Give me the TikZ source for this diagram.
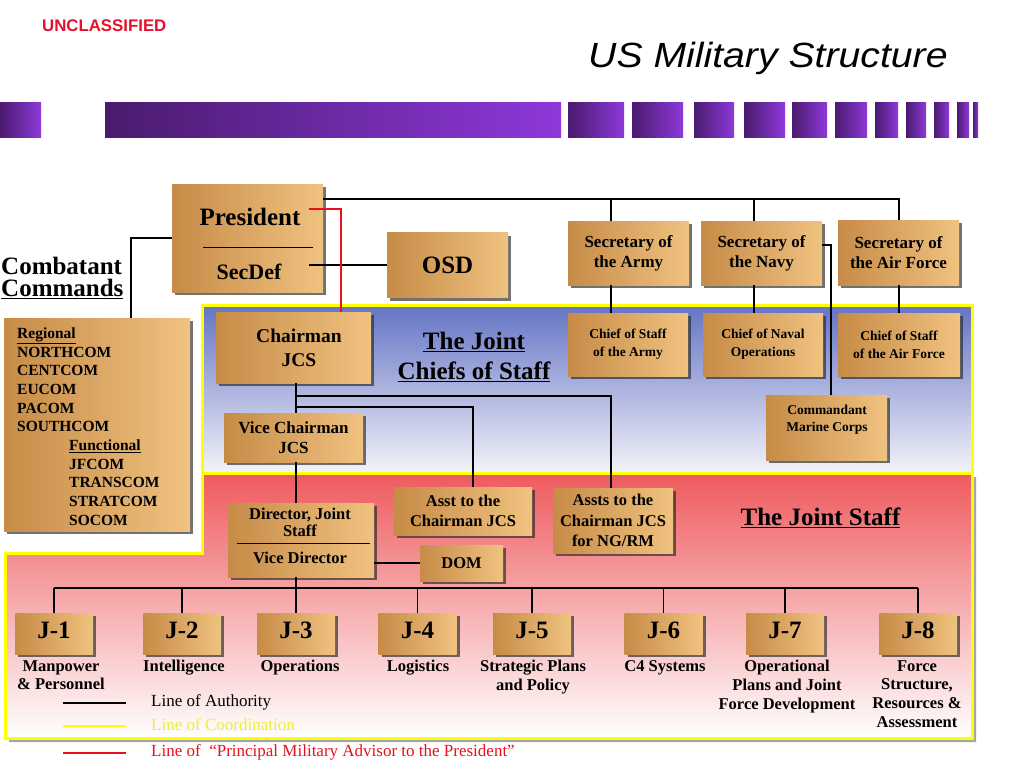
\documentclass[tikz,border=0pt]{standalone}
\usepackage{fontspec}
\setmainfont{Liberation Serif}
\newfontfamily\arialfam{Liberation Sans}
\usetikzlibrary{shadows}
\definecolor{boxL}{HTML}{C68B47}
\definecolor{boxR}{HTML}{F0C280}
\definecolor{blueT}{HTML}{6474C4}
\definecolor{blueB}{HTML}{F3F3F9}
\definecolor{redT}{HTML}{EE5A5E}
\definecolor{yel}{HTML}{FFFF00}
\definecolor{purD}{HTML}{4A1B6E}
\definecolor{purL}{HTML}{8E38DA}
\definecolor{uncl}{HTML}{E5122E}
\definecolor{advred}{HTML}{E8101E}
\definecolor{coordyel}{HTML}{EDED3A}
\newcommand\myfs[2]{\fontsize{#1}{#2}\selectfont\bfseries}
\begin{document}
\begin{tikzpicture}[x=1pt,y=-1pt,
  tbox/.style={left color=boxL, right color=boxR, inner sep=0pt, align=center,
    drop shadow={shadow xshift=3pt, shadow yshift=-3pt, opacity=.65, fill=black!85}},
  jbox/.style={tbox, minimum width=78pt, minimum height=41pt, text depth=7pt, font=\myfs{25}{28}},
  jlab/.style={anchor=north, inner sep=0pt, align=center, font=\myfs{16.5}{18.7}},
  lbl/.style={inner sep=0pt, align=center},
  conn/.style={draw=black, line width=1.8pt},
  redl/.style={draw=advred, line width=1.8pt},
  legline/.style={line width=1.2pt},
  legtext/.style={anchor=base west, inner sep=0pt, font=\fontsize{17}{20}\selectfont}]
\fill[white] (0,0) rectangle (1024,768);
\useasboundingbox (0,0) rectangle (1024,768);

% header
\node[anchor=west, inner sep=0pt, text=uncl, font=\arialfam\bfseries\fontsize{16.8}{18}\selectfont] (uncl) at (42,26) {UNCLASSIFIED};
\node[anchor=base west, inner sep=0pt, font=\arialfam\itshape\fontsize{35}{40}\selectfont] (title) at (588,67) {\scalebox{1.12}[1]{US Military Structure}};
\foreach \a/\b in {0/41,105/561,568/624,632/683,694/734,744/785,792/827,835/867,875/898,906/926,934/949,957/969,973/978}
  \fill[left color=purD, right color=purL] (\a,102) rectangle (\b,137);

% regions
\fill[black!35, shift={(4,4)}] (202,473) -- (972,473) -- (972,738) -- (5,738) -- (5,553) -- (202,553) -- cycle;
\path[draw=yel, line width=3pt, top color=blueT, bottom color=blueB] (202,305) rectangle (972,473);
\path[draw=yel, line width=3pt, top color=redT, bottom color=white] (202,473) -- (972,473) -- (972,738) -- (5,738) -- (5,553) -- (202,553) -- cycle;

% combatant commands
\node[anchor=base west, inner sep=0pt, font=\myfs{25}{28}] (cctitleA) at (1,274) {Combatant};
\node[anchor=base west, inner sep=0pt, font=\myfs{25}{28}] (cctitleB) at (1,296.5) {\underline{Commands}};
\node[tbox, minimum width=186pt, minimum height=213pt] (cc) at (97,424.5) {};
\node[anchor=north west, align=left, inner sep=0pt, font=\myfs{15.5}{18.7}] (cclist) at (17,327.4)
  {\underline{Regional}\\NORTHCOM\\CENTCOM\\EUCOM\\PACOM\\SOUTHCOM\\
   \hspace*{52pt}\underline{Functional}\\\hspace*{52pt}JFCOM\\\hspace*{52pt}TRANSCOM\\\hspace*{52pt}STRATCOM\\\hspace*{52pt}SOCOM};

% president / secdef
\node[tbox, minimum width=151pt, minimum height=108pt] (pres) at (247.5,238) {};
\node[lbl, font=\myfs{25}{28}] (prest) at (250,217) {President};
\draw[line width=1pt] (203,247) -- (313,247);
\node[lbl, font=\myfs{22}{24}] (secdeft) at (249,272) {SecDef};
\node[tbox, minimum width=121pt, minimum height=65pt, font=\myfs{25}{28}] (osd) at (447.5,265) {OSD};

% service secretaries and chiefs
\node[tbox, minimum width=121pt, minimum height=64pt, font=\myfs{17}{20}] (secarmy) at (628.5,253) {Secretary of\\the Army};
\node[tbox, minimum width=121pt, minimum height=64pt, font=\myfs{17}{20}] (secnavy) at (761.5,253) {Secretary of\\the Navy};
\node[tbox, minimum width=121pt, minimum height=65pt, font=\myfs{17}{20}] (secaf) at (898.5,252.5) {Secretary of\\the Air Force};
\node[tbox, minimum width=120pt, minimum height=63pt, font=\myfs{13.5}{18}] (cosarmy) at (628,344.5) {Chief of Staff\\of the Army};
\node[tbox, minimum width=120pt, minimum height=63pt, font=\myfs{13.5}{18}] (cno) at (763,344.5) {Chief of Naval\\Operations};
\node[tbox, minimum width=122pt, minimum height=63pt, font=\myfs{13.5}{18}] (cosaf) at (899,344.5) {Chief of Staff\\of the Air Force};
\node[tbox, minimum width=121pt, minimum height=65pt] (cmc) at (826.5,427.5) {};
\node[lbl, font=\myfs{13.5}{17}] (cmct) at (827,420) {Commandant\\Marine Corps};

% joint chiefs
\node[tbox, minimum width=155pt, minimum height=71pt, font=\myfs{19.5}{24}] (cjcs) at (293.5,347.5) {\hspace*{11pt}Chairman\\\hspace*{11pt}JCS};
\node[tbox, minimum width=139pt, minimum height=49pt, font=\myfs{17}{20}] (vcjcs) at (293.5,437.5) {Vice Chairman\\JCS};
\node[anchor=north, lbl, font=\myfs{25}{30}] (jcstitle) at (474,332) {\underline{The Joint}\\\underline{Chiefs of Staff}};

% joint staff
\node[anchor=base, inner sep=0pt, font=\myfs{25}{30}] (jstitle) at (820.5,525.5) {\underline{The Joint Staff}};
\node[tbox, minimum width=146pt, minimum height=74pt] (djs) at (301,540) {};
\node[lbl, font=\myfs{16.5}{17}] (djst) at (300,522.5) {Director, Joint\\Staff};
\draw[line width=1pt] (237,543) -- (370,543);
\node[lbl, font=\myfs{16.5}{18}] (vdt) at (300,558) {Vice Director};
\node[tbox, minimum width=138pt, minimum height=48pt, font=\myfs{16.5}{20}] (asst) at (463,511) {Asst to the\\Chairman JCS};
\node[tbox, minimum width=120pt, minimum height=65pt, font=\myfs{16.5}{20.5}] (assts) at (613,520.5) {Assts to the\\Chairman JCS\\for NG/RM};
\node[tbox, minimum width=83pt, minimum height=36pt, font=\myfs{16.5}{18}] (dom) at (461.5,563) {DOM};

% J directorates
\node[jbox] (J1) at (54,633.5) {J-1};
\node[jbox] (J2) at (182,633.5) {J-2};
\node[jbox] (J3) at (296,633.5) {J-3};
\node[jbox] (J4) at (417.5,633.5) {J-4};
\node[jbox] (J5) at (532,633.5) {J-5};
\node[jbox] (J6) at (663.5,633.5) {J-6};
\node[jbox] (J7) at (785,633.5) {J-7};
\node[jbox] (J8) at (918,633.5) {J-8};
\node[jlab] (L1) at (61,660) {Manpower\\\& Personnel};
\node[jlab] (L2) at (184,660) {Intelligence};
\node[jlab] (L3) at (300,660) {Operations};
\node[jlab] (L4) at (418,660) {Logistics};
\node[jlab] (L5) at (533,660) {Strategic Plans\\and Policy};
\node[jlab] (L6) at (665,660) {C4 Systems};
\node[jlab] (L7) at (787,660) {Operational\\Plans and Joint\\Force Development};
\node[jlab] (L8) at (917,660) {Force\\Structure,\\Resources \&\\Assessment};

% connectors
\coordinate (bus) at (899,199);
\coordinate (armyx) at (611,199);
\coordinate (navyx) at (754,199);
\draw[conn] (pres.east |- bus) -- (bus) -- (bus |- secaf.north);
\draw[conn] (armyx) -- (armyx |- secarmy.north);
\draw[conn] (navyx) -- (navyx |- secnavy.north);
\draw[conn] (armyx |- secarmy.south) -- (armyx |- cosarmy.north);
\draw[conn] (navyx |- secnavy.south) -- (navyx |- cno.north);
\draw[conn] (bus |- secaf.south) -- (bus |- cosaf.north);
\coordinate (cmcx) at (831,245);
\draw[conn] (secnavy.east |- cmcx) -- (cmcx) -- (cmcx |- cmc.north);
\coordinate (ccx) at (131,238);
\draw[conn] (pres.west |- ccx) -- (ccx) -- (ccx |- cc.north);
\coordinate (sdj) at (309,265);
\draw[conn] (sdj) -- (osd.west);
\coordinate (prj) at (309,209);
\coordinate (redx) at (341,209);
\draw[redl] (prj) -- (redx) -- (redx |- cjcs.north);
\coordinate (spine) at (296,383);
\coordinate (ja) at (611,396);
\coordinate (jb) at (473,407);
\draw[conn] (spine |- cjcs.south) -- (spine |- vcjcs.north);
\draw[conn] (spine |- ja) -- (ja) -- (ja |- assts.north);
\draw[conn] (spine |- jb) -- (jb) -- (jb |- asst.north);
\draw[conn] (spine |- vcjcs.south) -- (spine |- djs.north);
\draw[conn] (djs.east |- dom.west) -- (dom.west);
\coordinate (jbus) at (0,588);
\draw[conn] (spine |- djs.south) -- (spine |- jbus);
\draw[conn] (J1.north |- jbus) -- (J8.north |- jbus);
\foreach \i in {1,...,8} \draw[conn] (J\i.north |- jbus) -- (J\i.north);

% legend
\draw[legline, draw=black] (63,703) -- (126,703);
\draw[legline, draw=yel] (63,726) -- (126,726);
\draw[legline, draw=advred] (63,753) -- (126,753);
\node[legtext] (leg1) at (151,706) {Line of Authority};
\node[legtext, text=coordyel] (leg2) at (151,730) {Line of Coordination};
\node[legtext, text=advred] (leg3) at (151,756) {Line of\ \ “Principal Military Advisor to the President”};
\end{tikzpicture}
\end{document}
